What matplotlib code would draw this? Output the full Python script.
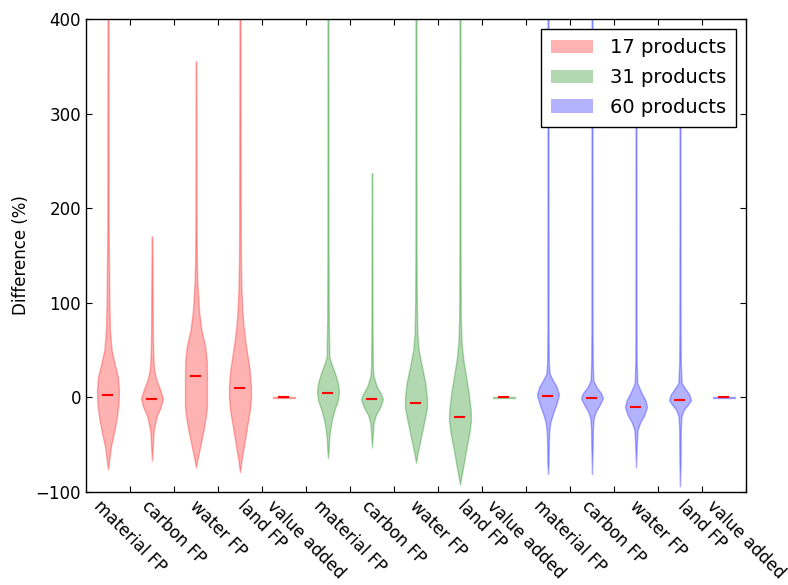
import numpy as np
import matplotlib
matplotlib.use("Agg")
import matplotlib.pyplot as plt
from matplotlib.patches import Patch

# ---- data ----
categories = ["material FP", "carbon FP", "water FP", "land FP", "value added"]
groups = ["17 products", "31 products", "60 products"]
group_colors = ["r", "g", "b"]

# violin outlines: value (%) and relative half-width
red_material_y = [-76, -52, -34, -20, -6, 8, 22, 36, 50, 71, 106, 142, 177, 420]
red_material_w = [0, 0.27, 0.6, 0.82, 0.96, 1.0, 0.9, 0.6, 0.33, 0.18, 0.12, 0.09, 0.06, 0.04]
red_carbon_y = [-67, -52, -41, -34, -20, -10, -1, 8, 18.5, 29, 36, 53, 71, 170]
red_carbon_w = [0, 0.08, 0.12, 0.17, 0.43, 0.8, 1.0, 0.75, 0.4, 0.2, 0.15, 0.1, 0.08, 0.03]
red_water_y = [-74, -62, -48, -34, -20, -10, 0, 15, 22, 38, 53, 71, 89, 106, 124, 142, 177, 355]
red_water_w = [0, 0.2, 0.45, 0.7, 0.9, 1.0, 1.0, 1.0, 1.0, 0.98, 0.85, 0.5, 0.3, 0.2, 0.12, 0.08, 0.05, 0.03]
red_land_y = [-79, -66, -52, -34, -13, 0, 11, 29, 43, 60, 78, 96, 113, 142, 177, 420]
red_land_w = [0, 0.15, 0.35, 0.6, 0.9, 1.0, 1.0, 0.88, 0.7, 0.48, 0.3, 0.2, 0.14, 0.09, 0.07, 0.04]
red_value_y = [-0.5, 0.5]
red_value_w = [1.0, 1.0]

green_material_y = [-64, -56, -45, -34, -24, -13, -3, 6, 15, 25, 36, 43, 85, 156, 420]
green_material_w = [0, 0.06, 0.1, 0.2, 0.35, 0.6, 0.9, 1.0, 0.9, 0.65, 0.3, 0.12, 0.07, 0.05, 0.04]
green_carbon_y = [-53, -38, -27, -18.5, -10, -2, 4, 11, 22, 32, 68, 237]
green_carbon_w = [0, 0.08, 0.15, 0.35, 0.75, 1.0, 0.8, 0.45, 0.15, 0.08, 0.05, 0.03]
green_water_y = [-69, -59, -48, -34, -20, -10, -1, 15, 32, 50, 68, 103, 156, 420]
green_water_w = [0, 0.15, 0.35, 0.6, 0.85, 1.0, 1.0, 0.85, 0.55, 0.25, 0.12, 0.07, 0.05, 0.04]
green_land_y = [-92, -84, -73, -56, -38, -24, -13, 4, 22, 40, 57, 85, 156, 420]
green_land_w = [0, 0.12, 0.3, 0.55, 0.85, 1.0, 0.97, 0.8, 0.55, 0.3, 0.15, 0.07, 0.05, 0.04]
green_value_y = [-0.5, 0.5]
green_value_w = [1.0, 1.0]

blue_material_y = [-81, -70, -52, -38, -27, -17, -6, 3, 11, 18, 25, 36, 54, 71, 420]
blue_material_w = [0, 0.05, 0.07, 0.1, 0.2, 0.45, 0.8, 1.0, 0.8, 0.45, 0.15, 0.08, 0.06, 0.05, 0.04]
blue_carbon_y = [-81, -52, -34, -22, -15, -8, -1, 4, 11, 18, 36, 71, 420]
blue_carbon_w = [0, 0.06, 0.08, 0.15, 0.35, 0.7, 1.0, 0.85, 0.4, 0.12, 0.07, 0.05, 0.04]
blue_water_y = [-74, -49, -34, -26, -19, -10, -3, 6, 15, 36, 71, 300]
blue_water_w = [0, 0.07, 0.15, 0.4, 0.75, 1.0, 0.85, 0.45, 0.12, 0.06, 0.05, 0.04]
blue_land_y = [-94, -70, -34, -20, -13, -8, -3, 3, 8, 15, 36, 71, 300]
blue_land_w = [0, 0.05, 0.07, 0.13, 0.35, 0.7, 1.0, 0.85, 0.55, 0.15, 0.07, 0.05, 0.04]
blue_value_y = [-0.5, 0.5]
blue_value_w = [1.0, 1.0]

red_medians = [2.9, -1.6, 22.4, 10.2, 0.0]
green_medians = [5.0, -1.7, -6.3, -20.3, 0.0]
blue_medians = [1.5, -1.0, -9.8, -2.7, 0.0]

outlines = [
    [(red_material_y, red_material_w), (red_carbon_y, red_carbon_w),
     (red_water_y, red_water_w), (red_land_y, red_land_w), (red_value_y, red_value_w)],
    [(green_material_y, green_material_w), (green_carbon_y, green_carbon_w),
     (green_water_y, green_water_w), (green_land_y, green_land_w), (green_value_y, green_value_w)],
    [(blue_material_y, blue_material_w), (blue_carbon_y, blue_carbon_w),
     (blue_water_y, blue_water_w), (blue_land_y, blue_land_w), (blue_value_y, blue_value_w)],
]
medians = [red_medians, green_medians, blue_medians]

# ---- figure ----
fig = plt.figure(figsize=(7.88, 5.85), dpi=100)
ax = fig.add_axes([0.1091, 0.159, 0.8376, 0.8085])

n_cat = len(categories)
for gi, (color, group_outlines, group_meds) in enumerate(zip(group_colors, outlines, medians)):
    stats = []
    for (ys, ws), med in zip(group_outlines, group_meds):
        ys = np.asarray(ys, float)
        ws = np.asarray(ws, float)
        stats.append(dict(coords=ys, vals=ws, mean=med, median=med,
                          min=ys.min(), max=ys.max()))
    positions = [gi * n_cat + k for k in range(n_cat)]
    parts = ax.violin(stats, positions=positions, widths=0.5,
                      showmeans=False, showextrema=False, showmedians=True)
    for body in parts["bodies"]:
        body.set_facecolor(color)
        body.set_edgecolor(color)
        body.set_linewidth(1.0)
        body.set_alpha(0.3)
    parts["cmedians"].set_color("r")
    parts["cmedians"].set_linewidth(1.5)

n_total = n_cat * len(groups)
ax.set_xlim(-0.5, n_total - 0.5)
ax.set_ylim(-100, 400)
ax.set_yticks([-100, 0, 100, 200, 300, 400])
ax.set_yticklabels(["\u2212100", "0", "100", "200", "300", "400"])
ax.set_xticks(np.arange(n_total) + 0.5)
ax.set_xticklabels(categories * len(groups), rotation=-45, ha="center", va="top")
ax.tick_params(direction="in", top=True, right=True, length=4, labelsize=12, colors="black")
ax.set_ylabel("Difference (%)", fontsize=12)
for sp in ax.spines.values():
    sp.set_color("black")
    sp.set_linewidth(1.0)

handles = [Patch(facecolor=c, edgecolor="none", alpha=0.3, label=g) for c, g in zip(group_colors, groups)]
leg = ax.legend(handles=handles, loc="upper right", fontsize=14, fancybox=False,
                framealpha=1.0, edgecolor="black", borderaxespad=0.5,
                borderpad=0.5, labelspacing=0.55, handlelength=2.15, handletextpad=0.9)
leg.get_frame().set_linewidth(1.0)

fig.savefig("out.png", dpi=100, facecolor="white")
